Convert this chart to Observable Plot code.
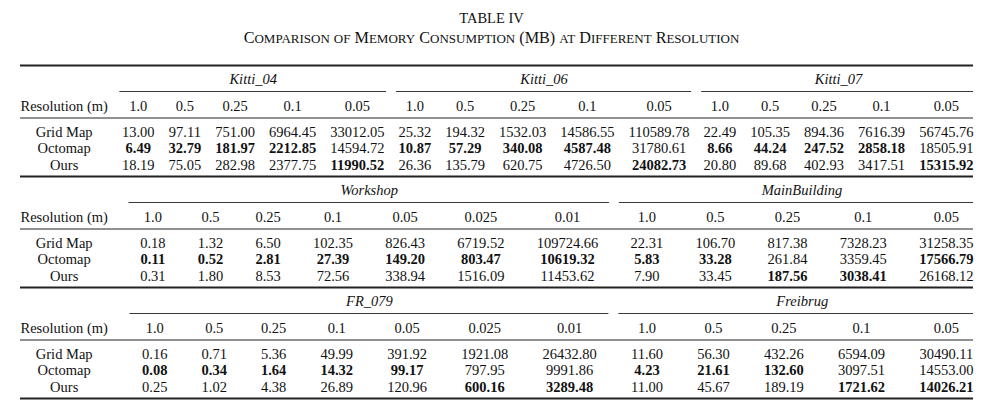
<!DOCTYPE html>
<html><head><meta charset="utf-8">
<script src="https://cdn.jsdelivr.net/npm/d3@7"></script>
<script src="https://cdn.jsdelivr.net/npm/@observablehq/plot@0.6"></script>
<style>html,body{margin:0;padding:0;background:#fff}</style>
</head><body><div id="chart"></div>
<script>
// ---------- data ----------
const title = "TABLE IV";
const subtitle = "Comparison of Memory Consumption (MB) at Different Resolution";
const resolutionLabel = "Resolution (m)";
const methods = ["Grid Map", "Octomap", "Ours"];

const resOutdoor = ["1.0", "0.5", "0.25", "0.1", "0.05"];
const resIndoor = ["1.0", "0.5", "0.25", "0.1", "0.05", "0.025", "0.01"];

// rows: Grid Map, Octomap, Ours
const kitti04 = [
  [13.00, 97.11, 751.00, 6964.45, 33012.05],
  [6.49, 32.79, 181.97, 2212.85, 14594.72],
  [18.19, 75.05, 282.98, 2377.75, 11990.52]
];
const kitti06 = [
  [25.32, 194.32, 1532.03, 14586.55, 110589.78],
  [10.87, 57.29, 340.08, 4587.48, 31780.61],
  [26.36, 135.79, 620.75, 4726.50, 24082.73]
];
const kitti07 = [
  [22.49, 105.35, 894.36, 7616.39, 56745.76],
  [8.66, 44.24, 247.52, 2858.18, 18505.91],
  [20.80, 89.68, 402.93, 3417.51, 15315.92]
];
const workshop = [
  [0.18, 1.32, 6.50, 102.35, 826.43, 6719.52, 109724.66],
  [0.11, 0.52, 2.81, 27.39, 149.20, 803.47, 10619.32],
  [0.31, 1.80, 8.53, 72.56, 338.94, 1516.09, 11453.62]
];
const mainBuilding = [
  [22.31, 106.70, 817.38, 7328.23, 31258.35],
  [5.83, 33.28, 261.84, 3359.45, 17566.79],
  [7.90, 33.45, 187.56, 3038.41, 26168.12]
];
const fr079 = [
  [0.16, 0.71, 5.36, 49.99, 391.92, 1921.08, 26432.80],
  [0.08, 0.34, 1.64, 14.32, 99.17, 797.95, 9991.86],
  [0.25, 1.02, 4.38, 26.89, 120.96, 600.16, 3289.48]
];
const freiburg = [
  [11.60, 56.30, 432.26, 6594.09, 30490.11],
  [4.23, 21.61, 132.60, 3097.51, 14553.00],
  [11.00, 45.67, 189.19, 1721.62, 14026.21]
];

const blocks = [
  [{name: "Kitti_04", res: resOutdoor, vals: kitti04},
   {name: "Kitti_06", res: resOutdoor, vals: kitti06},
   {name: "Kitti_07", res: resOutdoor, vals: kitti07}],
  [{name: "Workshop", res: resIndoor, vals: workshop},
   {name: "MainBuilding", res: resOutdoor, vals: mainBuilding}],
  [{name: "FR_079", res: resIndoor, vals: fr079},
   {name: "Freibrug", res: resOutdoor, vals: freiburg}]
];

// ---------- layout ----------
const W = 982, H = 415;
const FONT = '"Liberation Serif", "Times New Roman", serif';
const FS = 14.5;
const SUB_FS = 16.2; // subtitle capitals
const SC = 13;       // subtitle small-caps letters
const tableLeft = 20, tableRight = 973;
const titleY = 18, subtitleBaseline = 42, tableTop = 65, blockH = 111;
const off = {head: 13.5, cmid: 26, res: 40.5, mid: 52.5, rows: [66.5, 83, 99.5]};
const trim = 5;

const ctx = document.createElement("canvas").getContext("2d");
function tw(s, bold = false, italic = false, size = FS) {
  ctx.font = `${italic ? "italic " : ""}${bold ? "bold " : ""}${size}px ${FONT}`;
  return ctx.measureText(s).width;
}
const fmt = v => v.toFixed(2);

const texts = [];
const rules = [];
blocks.forEach((groups, bi) => {
  const top = tableTop + bi * blockH;
  const labelW = Math.max(tw(resolutionLabel), ...methods.map(m => tw(m)));
  const cols = [];
  groups.forEach((g, gi) => g.res.forEach((r, ri) => {
    const vals = g.vals.map(row => row[ri]);
    const mn = Math.min(...vals);
    const cells = vals.map(v => ({text: fmt(v), bold: v === mn}));
    const w = Math.max(tw(r), ...cells.map(c => tw(c.text, c.bold)));
    cols.push({g: gi, res: r, cells, w});
  }));
  const gap = (tableRight - tableLeft - labelW - d3.sum(cols, c => c.w)) / cols.length;
  let x = tableLeft + labelW;
  cols.forEach(c => { x += gap; c.left = x; c.cx = x + c.w / 2; x += c.w; c.right = x; });
  const labelCx = tableLeft + labelW / 2;
  texts.push({x: labelCx, y: top + off.res, text: resolutionLabel, kind: "normal"});
  methods.forEach((m, mi) => texts.push({x: labelCx, y: top + off.rows[mi], text: m, kind: "normal"}));
  cols.forEach(c => {
    texts.push({x: c.cx, y: top + off.res, text: c.res, kind: "normal"});
    c.cells.forEach((cell, mi) => texts.push({x: c.cx, y: top + off.rows[mi], text: cell.text, kind: cell.bold ? "bold" : "normal"}));
  });
  groups.forEach((g, gi) => {
    const gc = cols.filter(c => c.g === gi);
    const x1 = gc[0].left - gap / 2 + trim;
    const last = gc[gc.length - 1];
    const x2 = gi === groups.length - 1 ? tableRight : last.right + gap / 2 - trim;
    rules.push({y: top + off.cmid, x1, x2, w: 0.9});
    texts.push({x: (gc[0].left + last.right) / 2, y: top + off.head, text: g.name, kind: "italic"});
  });
  rules.push({y: top, x1: tableLeft, x2: tableRight, w: 1.8});
  rules.push({y: top + off.mid, x1: tableLeft, x2: tableRight, w: 1});
});
rules.push({y: tableTop + blocks.length * blockH, x1: tableLeft, x2: tableRight, w: 1.8});

// small caps subtitle built from runs
const runs = [];
for (const ch of subtitle) {
  const small = /[a-z]/.test(ch);
  const last = runs[runs.length - 1];
  if (last && last.small === small) last.raw += ch;
  else runs.push({small, raw: ch});
}
runs.forEach(r => { r.text = r.small ? r.raw.toUpperCase() : r.raw; r.w = tw(r.text, false, false, r.small ? SC : SUB_FS); });
let sx = W / 2 - d3.sum(runs, r => r.w) / 2;
runs.forEach(r => { r.x = sx; r.y = subtitleBaseline; sx += r.w; });

const headings = [{x: W / 2, y: titleY, text: title}];

const common = {x: "x", y: "y", text: "text", fontFamily: FONT, fontSize: FS, fill: "#111", textAnchor: "middle", lineAnchor: "middle"};

const chart = Plot.plot({
  width: W, height: H, margin: 0,
  style: {background: "#fff", fontFamily: FONT},
  x: {type: "linear", domain: [0, W], range: [0, W], axis: null},
  y: {type: "linear", domain: [0, H], range: [0, H], axis: null},
  marks: [
    Plot.ruleY(rules, {y: "y", x1: "x1", x2: "x2", strokeWidth: "w", stroke: "#222"}),
    Plot.text(headings, {...common}),
    Plot.text(runs.filter(r => !r.small), {...common, fontSize: SUB_FS, textAnchor: "start", lineAnchor: "bottom"}),
    Plot.text(runs.filter(r => r.small), {...common, fontSize: SC, textAnchor: "start", lineAnchor: "bottom"}),
    Plot.text(texts.filter(t => t.kind === "normal"), {...common}),
    Plot.text(texts.filter(t => t.kind === "bold"), {...common, fontWeight: "bold"}),
    Plot.text(texts.filter(t => t.kind === "italic"), {...common, fontStyle: "italic"})
  ]
});
document.getElementById("chart").appendChild(chart);
</script>
</body></html>
